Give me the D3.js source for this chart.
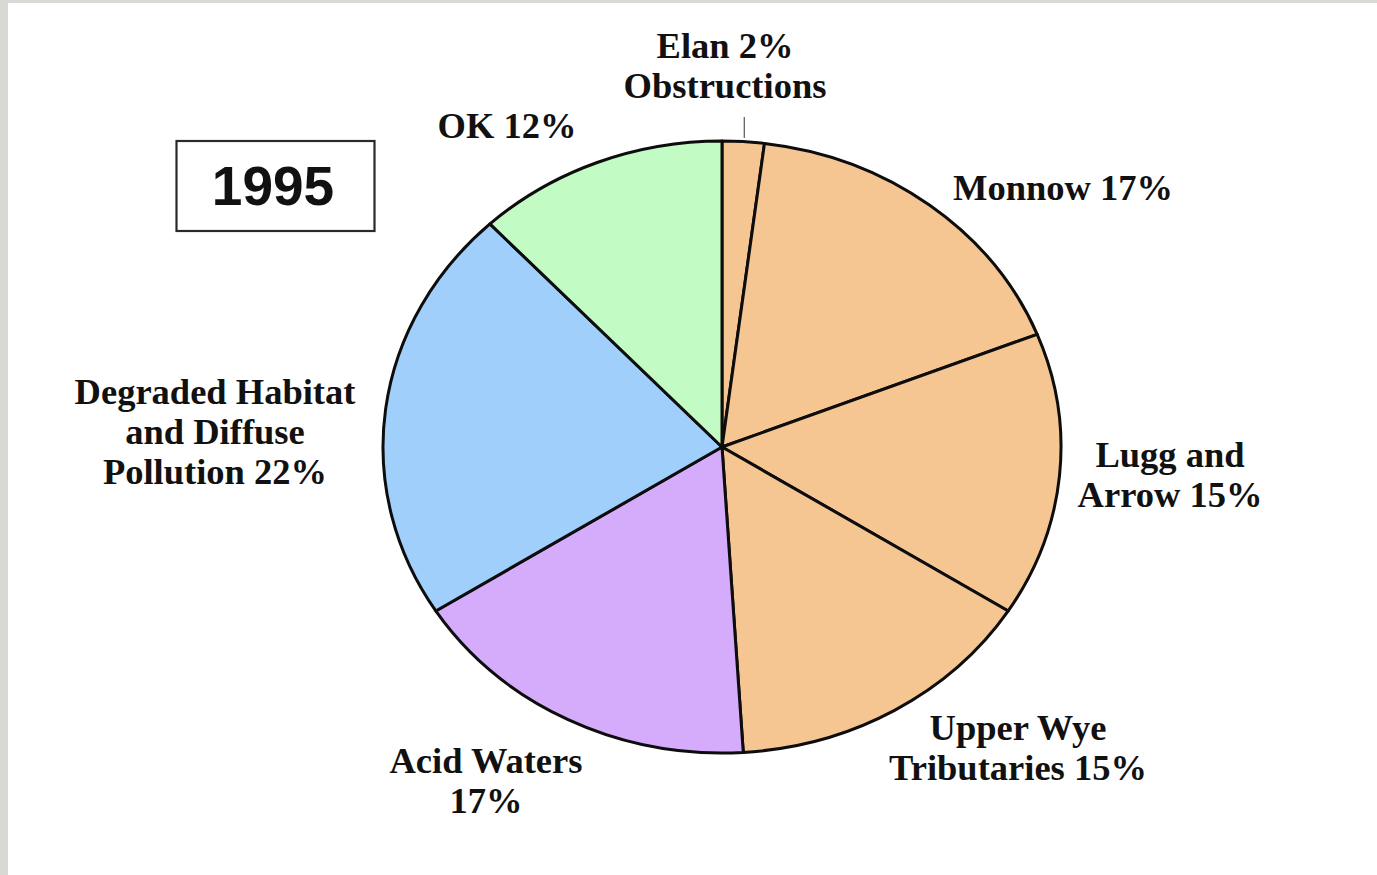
<!DOCTYPE html>
<html>
<head>
<meta charset="utf-8">
<script src="https://cdn.jsdelivr.net/npm/d3@7"></script>
<style>
  html, body { margin: 0; padding: 0; background: #ffffff; }
  svg { display: block; }
</style>
</head>
<body>
<svg id="chart" width="1377" height="875"></svg>
<script>
// Share of river length by problem category, 1995
const categories = ["Elan Obstructions", "Monnow", "Lugg and Arrow", "Upper Wye Tributaries", "Acid Waters", "Degraded Habitat and Diffuse Pollution", "OK"];
const values = [2, 17, 15, 15, 17, 22, 12];
const colors = ["#f5c592", "#f5c592", "#f5c592", "#f5c592", "#d5abfb", "#a1cffb", "#c2fbc3"];
const labelLines = [
  ["Elan 2%", "Obstructions"],
  ["Monnow 17%"],
  ["Lugg and", "Arrow 15%"],
  ["Upper Wye", "Tributaries 15%"],
  ["Acid Waters", "17%"],
  ["Degraded Habitat", "and Diffuse", "Pollution 22%"],
  ["OK 12%"]
];
const yearLabel = "1995";

const svg = d3.select("#chart");
const W = 1377, H = 875;

// page frame strips
svg.append("rect").attr("x", 0).attr("y", 0).attr("width", W).attr("height", H).attr("fill", "#ffffff");
svg.append("rect").attr("x", 0).attr("y", 0).attr("width", W).attr("height", 3).attr("fill", "#d9d9d5");
svg.append("rect").attr("x", 0).attr("y", 0).attr("width", 8).attr("height", H).attr("fill", "#d8d8d4");

// elliptical pie: drawn as a circle then stretched horizontally
const cx = 722, cy = 447, rx = 339, ry = 306;
const pie = d3.pie().sort(null).value(d => d).startAngle(0).endAngle(2 * Math.PI);
const arc = d3.arc().innerRadius(0).outerRadius(ry);
const arcs = pie(values);

const g = svg.append("g").attr("transform", `translate(${cx},${cy}) scale(${rx / ry},1)`);
g.selectAll("path.slice")
  .data(arcs)
  .join("path")
  .attr("class", "slice")
  .attr("d", arc)
  .attr("fill", (d, i) => colors[i])
  .attr("stroke", "#0d0d0d")
  .attr("stroke-width", 3)
  .attr("stroke-linejoin", "round")
  .attr("vector-effect", "non-scaling-stroke");

// label anchors (centre x, first baseline)
const labelPos = [
  [725, 58], [1063, 200], [1170, 467], [1018, 740], [486, 773], [215, 404], [507, 138]
];
const lineH = 40;
const labels = svg.append("g")
  .attr("font-family", "'Liberation Serif', 'Times New Roman', serif")
  .attr("font-weight", "bold")
  .attr("font-size", 36.5)
  .attr("fill", "#111111")
  .attr("text-anchor", "middle");
labelLines.forEach((lines, i) => {
  const t = labels.append("text").attr("x", labelPos[i][0]).attr("y", labelPos[i][1]);
  lines.forEach((ln, j) => {
    t.append("tspan").attr("x", labelPos[i][0]).attr("dy", j === 0 ? 0 : lineH).text(ln);
  });
});

// leader for the small Elan slice
const elanMid = (arcs[0].startAngle + arcs[0].endAngle) / 2;
const lx = cx + rx * Math.sin(elanMid);
svg.append("line")
  .attr("x1", lx + 1).attr("x2", lx + 1)
  .attr("y1", 117).attr("y2", 138)
  .attr("stroke", "#555555").attr("stroke-width", 1.2);

// year box
svg.append("rect")
  .attr("x", 176.5).attr("y", 141).attr("width", 198).attr("height", 90)
  .attr("fill", "#ffffff").attr("stroke", "#2a2a2a").attr("stroke-width", 2.2);
svg.append("text")
  .attr("x", 273).attr("y", 205)
  .attr("text-anchor", "middle")
  .attr("font-family", "'Liberation Sans', Arial, sans-serif")
  .attr("font-weight", "bold")
  .attr("font-size", 55)
  .attr("fill", "#111111")
  .text(yearLabel);
</script>
</body>
</html>
